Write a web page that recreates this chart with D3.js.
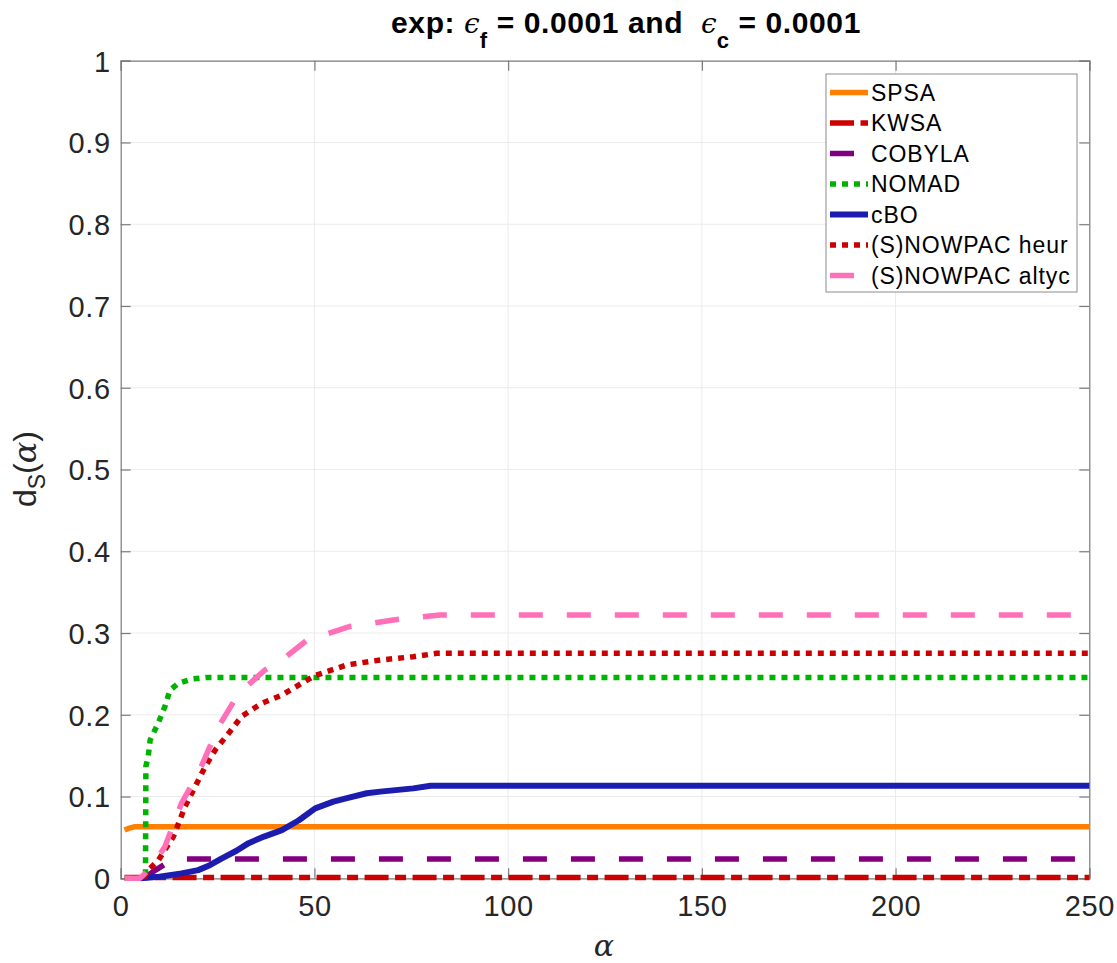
<!DOCTYPE html>
<html>
<head>
<meta charset="utf-8">
<script src="https://cdn.jsdelivr.net/npm/d3@7"></script>
<style>
  html, body { margin: 0; padding: 0; background: #ffffff; }
  svg text { font-family: "Liberation Sans", Arial, Helvetica, sans-serif; white-space: pre; }
</style>
</head>
<body>
<svg id="chart" width="1117" height="963"></svg>
<script>
// ---- data ----
const seriesNames = ["SPSA", "KWSA", "COBYLA", "NOMAD", "cBO", "(S)NOWPAC heur", "(S)NOWPAC altyc"];

const spsaAlpha = [1, 2, 3.5, 250];
const spsaValue = [0.059, 0.061, 0.063, 0.063];

const kwsaAlpha = [1, 250];
const kwsaValue = [0.001, 0.001];

const cobylaAlpha = [6, 9, 11.5, 14, 16.5, 250];
const cobylaValue = [0, 0.010, 0.0175, 0.021, 0.0236, 0.0236];

const nomadAlpha = [1, 6.4, 6.5, 7.1, 7.6, 9.7, 11.4, 12.7, 14.9, 18.3, 22, 250];
const nomadValue = [0, 0, 0.137, 0.149, 0.169, 0.19, 0.21, 0.23, 0.2385, 0.2437, 0.2455, 0.2455];

const cboAlpha = [5, 10, 15.7, 20, 23, 26, 30, 33, 37, 41.6, 46, 50.2, 54.9, 58.4, 63.5, 67, 75.5, 80, 250];
const cboValue = [0, 0.002, 0.006, 0.010, 0.016, 0.024, 0.034, 0.043, 0.051, 0.059, 0.071, 0.0856, 0.0937, 0.098, 0.104, 0.106, 0.110, 0.1133, 0.1133];

const heurAlpha = [6, 7.1, 9.7, 13.6, 16.6, 19.2, 21.8, 24.4, 27.8, 31.2, 36.4, 41.6, 46.7, 50.2, 58.4, 67, 75.5, 81.6, 250];
const heurValue = [0, 0.01, 0.022, 0.051, 0.0876, 0.112, 0.1365, 0.157, 0.177, 0.198, 0.214, 0.224, 0.2385, 0.248, 0.261, 0.267, 0.271, 0.2752, 0.2752];

const altycAlpha = [1, 5, 8, 11.4, 15.7, 20, 25.2, 30.4, 37.3, 41.6, 48, 59.2, 70.4, 82.4, 250];
const altycValue = [0, 0, 0.014, 0.0387, 0.092, 0.128, 0.185, 0.226, 0.255, 0.267, 0.291, 0.308, 0.316, 0.322, 0.322];

const xTicks = [0, 50, 100, 150, 200, 250];
const yTicks = [0, 0.1, 0.2, 0.3, 0.4, 0.5, 0.6, 0.7, 0.8, 0.9, 1];
const yTickLabels = ["0", "0.1", "0.2", "0.3", "0.4", "0.5", "0.6", "0.7", "0.8", "0.9", "1"];

// ---- styles ----
const colors = ["#ff8000", "#cc0000", "#800080", "#00b300", "#1c1caf", "#cc0000", "#ff70b8"];
const dashes = [null, "24,6.5,11,6.5", "24,24", "6,6", null, "6,6", "24,24"];
const widths = [5.5, 5.5, 5.5, 5.5, 6, 5.5, 5.5];

const allAlpha = [spsaAlpha, kwsaAlpha, cobylaAlpha, nomadAlpha, cboAlpha, heurAlpha, altycAlpha];
const allValue = [spsaValue, kwsaValue, cobylaValue, nomadValue, cboValue, heurValue, altycValue];

const margin = { left: 120.7, right: 1089.3, top: 60.7, bottom: 878.3 };
const svg = d3.select("#chart");

const x = d3.scaleLinear().domain([0, 250]).range([margin.left, margin.right]);
const y = d3.scaleLinear().domain([0, 1]).range([margin.bottom, margin.top]);

// grid
const grid = svg.append("g");
grid.selectAll("line.gx").data(xTicks.slice(1, -1)).enter().append("line")
  .attr("x1", d => x(d)).attr("x2", d => x(d))
  .attr("y1", margin.top).attr("y2", margin.bottom)
  .attr("stroke", "#ebebeb").attr("stroke-width", 1);
grid.selectAll("line.gy").data(yTicks.slice(1, -1)).enter().append("line")
  .attr("y1", d => y(d)).attr("y2", d => y(d))
  .attr("x1", margin.left).attr("x2", margin.right)
  .attr("stroke", "#ebebeb").attr("stroke-width", 1);

// axes with D3 (inner ticks)
const axisColor = "#7a7a7a";
const tickFont = 29;
const bottomAxis = d3.axisBottom(x).tickValues(xTicks).tickSize(-10).tickPadding(14).tickFormat(d3.format("d"));
const topAxis = d3.axisTop(x).tickValues(xTicks).tickSize(-10).tickFormat("");
const leftAxis = d3.axisLeft(y).tickValues(yTicks).tickSize(-10).tickPadding(14).tickFormat((d, i) => yTickLabels[i]);
const rightAxis = d3.axisRight(y).tickValues(yTicks).tickSize(-10).tickFormat("");

function styleAxis(g) {
  g.select(".domain").attr("stroke", axisColor).attr("stroke-width", 1.2);
  g.selectAll(".tick line").attr("stroke", axisColor).attr("stroke-width", 1.2);
  g.selectAll(".tick text").attr("fill", "#262626").style("font-size", tickFont + "px")
    .style("font-family", "'Liberation Sans', Arial, sans-serif").style("letter-spacing", "0.6px");
}
svg.append("g").attr("transform", `translate(0,${margin.bottom})`).call(bottomAxis).call(styleAxis)
  .selectAll(".tick text").attr("dy", "0.71em").attr("y", 17);
svg.append("g").attr("transform", `translate(0,${margin.top})`).call(topAxis).call(styleAxis);
svg.append("g").attr("transform", `translate(${margin.left},0)`).call(leftAxis).call(styleAxis)
  .selectAll(".tick text").attr("x", -10).attr("dy", "0.36em");
svg.append("g").attr("transform", `translate(${margin.right},0)`).call(rightAxis).call(styleAxis);

// lines
const line = d3.line().x(d => x(d[0])).y(d => y(d[1]));
const linesG = svg.append("g");
seriesNames.forEach((name, i) => {
  const pts = allAlpha[i].map((a, j) => [a, allValue[i][j]]);
  linesG.append("path")
    .datum(pts)
    .attr("d", line)
    .attr("fill", "none")
    .attr("stroke", colors[i])
    .attr("stroke-width", widths[i])
    .attr("stroke-linejoin", "round")
    .attr("stroke-dasharray", dashes[i]);
});

// legend
const leg = svg.append("g");
const legX0 = 826, legY0 = 74, legW = 251, legH = 218;
leg.append("rect").attr("x", legX0).attr("y", legY0).attr("width", legW).attr("height", legH)
  .attr("fill", "#ffffff").attr("stroke", "#8c8c8c").attr("stroke-width", 1);
const rowY = i => 92.5 + i * 30.5;
seriesNames.forEach((name, i) => {
  leg.append("line")
    .attr("x1", 830).attr("x2", 868)
    .attr("y1", rowY(i)).attr("y2", rowY(i))
    .attr("stroke", colors[i]).attr("stroke-width", widths[i])
    .attr("stroke-dasharray", dashes[i]);
  leg.append("text")
    .attr("x", 871).attr("y", rowY(i) + 8)
    .attr("fill", "#000")
    .style("font-size", "23px").style("letter-spacing", "0.9px")
    .text(name);
});

// title
const title = svg.append("text")
  .attr("x", 626).attr("y", 33)
  .attr("text-anchor", "middle")
  .attr("fill", "#000")
  .style("font-size", "30px").style("font-weight", "bold").style("letter-spacing", "0.6px");
title.append("tspan").text("exp: ");
title.append("tspan").style("font-family", "'DejaVu Serif', serif").style("font-style", "italic")
  .style("font-weight", "normal").style("letter-spacing", "0px").style("font-size", "28px").text("\u03F5");
title.append("tspan").attr("dy", 15).style("font-size", "22px").text("f");
title.append("tspan").attr("dy", -15).text(" = 0.0001 and  ");
title.append("tspan").style("font-family", "'DejaVu Serif', serif").style("font-style", "italic")
  .style("font-weight", "normal").style("letter-spacing", "0px").style("font-size", "28px").text("\u03F5");
title.append("tspan").attr("dy", 15).style("font-size", "22px").text("c");
title.append("tspan").attr("dy", -15).text(" = 0.0001");

// x label
svg.append("text")
  .attr("x", 604).attr("y", 956)
  .attr("text-anchor", "middle")
  .attr("fill", "#262626")
  .style("font-family", "'DejaVu Serif', serif").style("font-style", "italic")
  .style("font-size", "30px")
  .text("\u03B1");

// y label
const yl = svg.append("text")
  .attr("transform", "translate(36,469) rotate(-90)")
  .attr("text-anchor", "middle")
  .attr("fill", "#262626")
  .style("font-size", "32px");
yl.append("tspan").text("d");
yl.append("tspan").attr("dy", 9).style("font-size", "23px").text("S");
yl.append("tspan").attr("dy", -9).text("(");
yl.append("tspan").style("font-family", "'DejaVu Serif', serif").style("font-style", "italic").text("\u03B1");
yl.append("tspan").text(")");
</script>
</body>
</html>
